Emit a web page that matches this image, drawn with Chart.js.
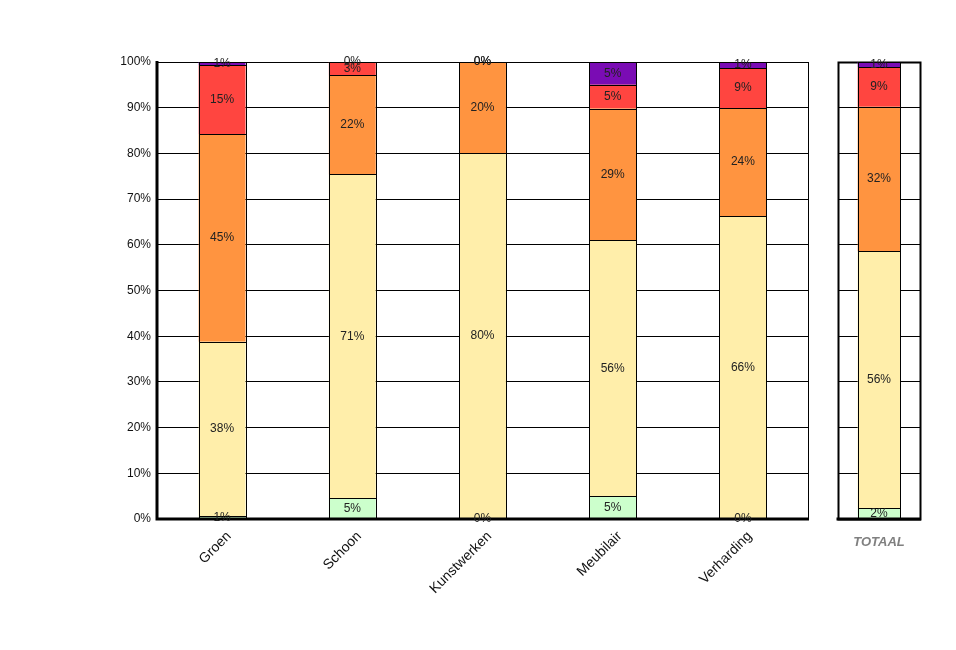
<!DOCTYPE html>
<html><head><meta charset="utf-8">
<script src="https://cdn.jsdelivr.net/npm/chart.js@4/dist/chart.umd.min.js"></script>
<style>
html,body{margin:0;padding:0;background:#fff;}
#wrap{position:relative;width:956px;height:650px;overflow:hidden;}
#c1{position:absolute;left:0;top:0;}
#c2{position:absolute;left:830px;top:0;}
</style></head><body>
<div id="wrap"><canvas id="c1" width="830" height="650"></canvas><canvas id="c2" width="126" height="650"></canvas></div>
<script>
// ---- data (percent shares per category, bottom to top) ----
const categories = ['Groen', 'Schoon', 'Kunstwerken', 'Meubilair', 'Verharding'];
const totalCategory = ['TOTAAL'];
const yTicks = [0, 10, 20, 30, 40, 50, 60, 70, 80, 90, 100];

const serieGroen1  = [0.6, 4.6, 0, 5.0, 0];        // light green
const serieGeel2   = [38.2, 70.8, 80, 56.0, 66.3]; // light yellow
const serieOranje3 = [45.4, 21.7, 20, 28.8, 23.6]; // orange
const serieRood4   = [15.1, 2.9, 0, 5.2, 8.8];     // red
const seriePaars5  = [0.7, 0, 0, 5.0, 1.3];        // purple

const totaal1 = [2.3];
const totaal2 = [56.3];
const totaal3 = [31.6];
const totaal4 = [8.7];
const totaal5 = [1.1];

const colors = ['#ccffcc', '#ffeeaa', '#ff9440', '#ff4540', '#7a0cb4'];
const FONT = 'Arial, "Liberation Sans", sans-serif';

function makeDatasets(arrs, barPct) {
  return arrs.map((d, i) => ({
    data: d,
    backgroundColor: colors[i],
    borderWidth: 0,
    borderSkipped: false,
    barPercentage: barPct,
    categoryPercentage: 1
  }));
}

const labelPlugin = {
  id: 'valLabels',
  beforeDatasetsDraw(chart) {
    const ctx = chart.ctx;
    const a = chart.chartArea;
    ctx.save();
    ctx.strokeStyle = '#000';
    ctx.lineWidth = chart.options.plugins.valLabels.frameWidth || 1;
    ctx.strokeRect(Math.round(a.left) + 0.5, Math.round(a.top) + 0.5, Math.round(a.right - a.left), Math.round(a.bottom - a.top));
    ctx.restore();
  },
  afterDatasetsDraw(chart) {
    const ctx = chart.ctx;
    const a = chart.chartArea;
    // crisp black outlines around each segment, from the library's own elements
    ctx.save();
    ctx.strokeStyle = '#000';
    ctx.lineWidth = 1;
    chart.data.datasets.forEach((ds, di) => {
      const meta = chart.getDatasetMeta(di);
      meta.data.forEach((el) => {
        const x0 = Math.round(el.x - el.width / 2) + 0.5;
        const x1 = Math.round(el.x + el.width / 2) + 0.5;
        const yA = Math.round(Math.min(el.y, el.base)) + 0.5;
        const yB = Math.round(Math.max(el.y, el.base)) + 0.5;
        if (yB - yA < 0.5) return;
        ctx.strokeRect(x0, yA, x1 - x0, yB - yA);
      });
    });
    ctx.restore();

    // thick axes
    ctx.save();
    ctx.strokeStyle = '#000';
    ctx.lineWidth = 3;
    ctx.beginPath();
    if (chart.options.plugins.valLabels.thickLeft) {
      ctx.moveTo(a.left, a.top - 1);
      ctx.lineTo(a.left, a.bottom + 1.5);
    }
    ctx.moveTo(a.left - 1.5, a.bottom);
    ctx.lineTo(a.right + 1, a.bottom);
    ctx.stroke();
    ctx.restore();

    ctx.save();
    ctx.font = '12px ' + FONT;
    ctx.fillStyle = '#222';
    ctx.textAlign = 'center';
    ctx.textBaseline = 'middle';
    chart.data.datasets.forEach((ds, di) => {
      const meta = chart.getDatasetMeta(di);
      meta.data.forEach((el, i) => {
        const v = ds.data[i];
        const y = (el.y + el.base) / 2;
        ctx.fillText(Math.round(v) + '%', el.x, y);
      });
    });
    ctx.restore();
  }
};

new Chart(document.getElementById('c1'), {
  type: 'bar',
  data: {
    labels: categories,
    datasets: makeDatasets([serieGroen1, serieGeel2, serieOranje3, serieRood4, seriePaars5], 0.36)
  },
  plugins: [labelPlugin],
  options: {
    responsive: false,
    animation: false,
    events: [],
    layout: { padding: { top: 62, right: 22, left: 0, bottom: 0 } },
    plugins: { legend: { display: false }, tooltip: { enabled: false }, valLabels: { thickLeft: true } },
    scales: {
      x: {
        stacked: true,
        grid: { display: false },
        border: { display: false },
        ticks: { font: { family: FONT, size: 14 }, color: '#111', maxRotation: 45, minRotation: 45, autoSkip: false, padding: 1, labelOffset: 7 },
        afterFit(s) { s.height = 131; }
      },
      y: {
        stacked: true,
        min: 0, max: 100,
        afterBuildTicks(s) { s.ticks = yTicks.map(v => ({ value: v })); },
        grid: { color: '#000', lineWidth: 1, drawTicks: false },
        border: { display: false },
        ticks: { padding: 6, callback: v => v + '%', font: { family: FONT, size: 12 }, color: '#111' },
        afterFit(s) { s.width = 157; }
      }
    }
  }
});

new Chart(document.getElementById('c2'), {
  type: 'bar',
  data: {
    labels: totalCategory,
    datasets: makeDatasets([totaal1, totaal2, totaal3, totaal4, totaal5], 0.52)
  },
  plugins: [labelPlugin],
  options: {
    responsive: false,
    animation: false,
    events: [],
    layout: { padding: { top: 62, right: 36, left: 0, bottom: 0 } },
    plugins: { legend: { display: false }, tooltip: { enabled: false }, valLabels: { thickLeft: false, frameWidth: 2 } },
    scales: {
      x: {
        stacked: true,
        grid: { display: false },
        border: { display: false },
        ticks: { font: { family: FONT, size: 13, weight: 'bold', style: 'italic' }, color: '#808080', maxRotation: 0, minRotation: 0, padding: 8 },
        afterFit(s) { s.height = 131; }
      },
      y: {
        stacked: true,
        min: 0, max: 100,
        afterBuildTicks(s) { s.ticks = yTicks.map(v => ({ value: v })); },
        grid: { color: '#000', lineWidth: 1, drawTicks: false },
        border: { display: false },
        ticks: { display: false },
        afterFit(s) { s.width = 8; }
      }
    }
  }
});
</script>
</body></html>
